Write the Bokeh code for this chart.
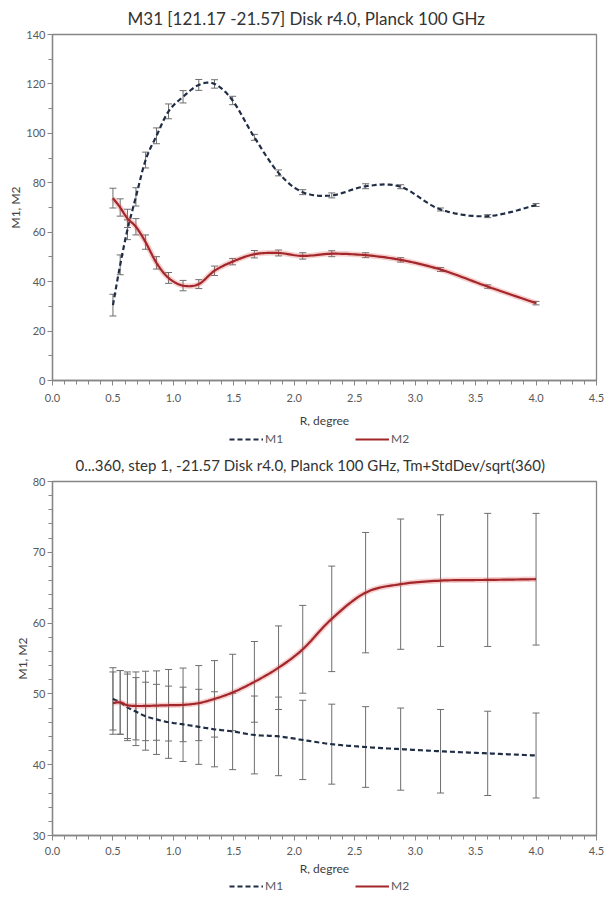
import numpy as np
from bokeh.plotting import figure
from bokeh.models import (ColumnDataSource, Whisker, TeeHead, FixedTicker, Legend,
                          LegendItem, Range1d, NumeralTickFormatter)
from bokeh.layouts import column
from bokeh.embed import file_html
from bokeh.resources import INLINE

# ---------------- data ----------------
R = [0.5, 0.56, 0.62, 0.69, 0.77, 0.86, 0.96, 1.08, 1.21, 1.34,
     1.49, 1.67, 1.87, 2.07, 2.31, 2.59, 2.88, 3.21, 3.6, 4.0]

top_m1 = [30.5, 46.8, 61.0, 74.3, 89.2, 99.0, 108.9, 114.8, 119.6, 120.0,
          113.3, 98.4, 84.0, 76.2, 74.9, 78.6, 78.4, 69.2, 66.5, 71.0]
top_m1_err = [4.4, 4.0, 4.0, 3.7, 3.2, 3.2, 3.0, 2.5, 2.2, 1.7,
              1.7, 1.2, 1.2, 1.0, 1.0, 1.0, 0.8, 0.6, 0.6, 0.6]
top_m2 = [73.8, 70.0, 65.6, 62.2, 56.0, 47.6, 41.5, 38.4, 39.0, 44.4,
          48.1, 51.1, 51.6, 50.4, 51.3, 50.7, 48.8, 44.9, 38.0, 31.3]
top_m2_err = [4.0, 3.5, 3.7, 3.3, 2.9, 2.5, 2.2, 2.1, 1.8, 1.9,
              1.3, 1.5, 1.2, 1.3, 1.2, 1.0, 0.9, 0.8, 0.7, 0.7]

bot_m1 = [49.3, 48.8, 48.1, 47.5, 46.85, 46.4, 46.0, 45.7, 45.35, 45.0,
          44.7, 44.2, 44.0, 43.5, 42.9, 42.5, 42.2, 41.9, 41.6, 41.3]
bot_m1_err = [4.4, 4.5, 4.7, 4.8, 4.8, 4.95, 5.1, 5.25, 5.3, 5.3,
              5.4, 5.5, 5.55, 5.6, 5.65, 5.7, 5.8, 5.9, 5.95, 6.0]
bot_m2 = [48.7, 48.8, 48.4, 48.3, 48.3, 48.35, 48.4, 48.45, 48.7, 49.3,
          50.2, 51.7, 53.7, 56.3, 60.6, 64.3, 65.5, 66.0, 66.1, 66.2]
bot_m2_err = [4.4, 4.5, 4.7, 4.8, 4.9, 4.9, 5.05, 5.2, 5.3, 5.4,
              5.4, 5.7, 5.9, 6.2, 7.45, 8.5, 9.2, 9.3, 9.4, 9.3]

x_ticks = [0.0, 0.5, 1.0, 1.5, 2.0, 2.5, 3.0, 3.5, 4.0, 4.5]
top_y_ticks = [0, 20, 40, 60, 80, 100, 120, 140]
bot_y_ticks = [30, 40, 50, 60, 70, 80]

top_title = "M31  [121.17  -21.57]  Disk r4.0, Planck 100 GHz"
bot_title = "0...360, step 1, -21.57  Disk r4.0, Planck 100 GHz, Tm+StdDev/sqrt(360)"
series_names = ["M1", "M2"]

FONT = "Lato"
AXIS_COL = "#868686"
TEXT_COL = "#595959"
M1_COL = "#1f2d45"
M2_COL = "#a3262a"
ERR_COL = "#6e6e6e"
WIDTH = 604


def smooth(xs, ys, n=14):
    """Excel-like smoothed line (cubic Bezier through the data points)."""
    xs = np.asarray(xs, float)
    ys = np.asarray(ys, float)
    px = np.concatenate([[xs[0]], xs, [xs[-1]]])
    py = np.concatenate([[ys[0]], ys, [ys[-1]]])
    t = np.linspace(0, 1, n)
    outx, outy = [], []
    for i in range(len(xs) - 1):
        p0x, p0y = px[i], py[i]
        p1x, p1y = px[i + 1], py[i + 1]
        p2x, p2y = px[i + 2], py[i + 2]
        p3x, p3y = px[i + 3], py[i + 3]
        c1x, c1y = p1x + (p2x - p0x) / 6, p1y + (p2y - p0y) / 6
        c2x, c2y = p2x - (p3x - p1x) / 6, p2y - (p3y - p1y) / 6
        a, b, c, d = (1 - t) ** 3, 3 * (1 - t) ** 2 * t, 3 * (1 - t) * t ** 2, t ** 3
        bx = a * p1x + b * c1x + c * c2x + d * p2x
        by = a * p1y + b * c1y + c * c2y + d * p2y
        if i > 0:
            bx, by = bx[1:], by[1:]
        outx.extend(bx)
        outy.extend(by)
    return outx, outy


def make_fig(title, title_size, title_offset, title_standoff,
             ymin, ymax, yticks, yminor_step, m1, e1, m2, e2,
             height, btop, bbot, lab_standoff, axlab_standoff):
    p = figure(width=WIDTH, height=height, output_backend="svg", toolbar_location=None,
               x_range=Range1d(0, 4.5), y_range=Range1d(ymin, ymax),
               min_border_left=52, min_border_right=8,
               min_border_top=btop, min_border_bottom=bbot)
    p.background_fill_color = "white"
    p.border_fill_color = "white"
    p.outline_line_color = AXIS_COL
    p.outline_line_width = 1.3
    p.xgrid.visible = False
    p.ygrid.visible = False

    p.title.text = title
    p.title.align = "left"
    p.title.offset = title_offset
    p.title.standoff = title_standoff
    p.title.text_font = FONT
    p.title.text_font_size = title_size
    p.title.text_font_style = "normal"
    p.title.text_color = "#333333"

    xminor = [round(v, 2) for v in np.arange(0, 4.51, 0.1)]
    p.xaxis.ticker = FixedTicker(ticks=x_ticks, minor_ticks=xminor)
    yminor = list(np.arange(ymin, ymax + 0.01, yminor_step))
    p.yaxis.ticker = FixedTicker(ticks=yticks, minor_ticks=yminor)
    p.xaxis.formatter = NumeralTickFormatter(format="0.0")
    p.yaxis.formatter = NumeralTickFormatter(format="0")

    for ax in (p.xaxis[0], p.yaxis[0]):
        ax.axis_line_color = AXIS_COL
        ax.axis_line_width = 1.3
        ax.major_tick_line_color = AXIS_COL
        ax.minor_tick_line_color = AXIS_COL
        ax.major_tick_in = 0
        ax.minor_tick_in = 0
        ax.major_tick_out = 5
        ax.minor_tick_out = 4
        ax.major_label_text_font = FONT
        ax.major_label_text_font_size = "11px"
        ax.major_label_text_color = TEXT_COL
        ax.axis_label_text_font = FONT
        ax.axis_label_text_font_size = "12px"
        ax.axis_label_text_font_style = "normal"
        ax.axis_label_text_color = "#404040"
    p.xaxis.axis_label = "R, degree"
    p.yaxis.axis_label = "M1, M2"
    p.xaxis.major_label_standoff = lab_standoff
    p.xaxis.axis_label_standoff = axlab_standoff
    p.yaxis.major_label_standoff = 2
    p.yaxis.axis_label_standoff = 0

    # error bars
    for m, e in ((m1, e1), (m2, e2)):
        src = ColumnDataSource(dict(x=R,
                                    lower=[a - b for a, b in zip(m, e)],
                                    upper=[a + b for a, b in zip(m, e)]))
        w = Whisker(source=src, base="x", lower="lower", upper="upper",
                    line_color=ERR_COL, line_width=1,
                    upper_head=TeeHead(size=7, line_color=ERR_COL, line_width=1),
                    lower_head=TeeHead(size=7, line_color=ERR_COL, line_width=1))
        p.add_layout(w)

    sx1, sy1 = smooth(R, m1)
    sx2, sy2 = smooth(R, m2)
    p.line(sx1, sy1, line_color=M1_COL, line_width=2.2, line_dash="5 3")
    p.line(sx2, sy2, line_color="#e06060", line_alpha=0.3, line_width=5.5)
    p.line(sx2, sy2, line_color=M2_COL, line_width=2.2)
    return p


def make_legend_fig(height, ly, m1, m2):
    # the series are drawn out of view here; only the legend swatches show
    q = figure(width=WIDTH, height=height, output_backend="svg", toolbar_location=None,
               x_axis_type=None, y_axis_type=None, min_border=0,
               x_range=Range1d(0, 4.5), y_range=Range1d(-2, -1))
    q.outline_line_color = None
    q.xgrid.visible = False
    q.ygrid.visible = False
    r1 = q.line(R, m1, line_color=M1_COL, line_width=2.2, line_dash="5 3")
    r2 = q.line(R, m2, line_color=M2_COL, line_width=2.2)
    legend = Legend(items=[LegendItem(label=series_names[0], renderers=[r1]),
                           LegendItem(label=series_names[1], renderers=[r2])],
                    orientation="horizontal", location=(177, ly),
                    border_line_color=None, background_fill_alpha=0,
                    spacing=70, glyph_width=34, glyph_height=12,
                    label_standoff=2, label_text_font=FONT,
                    label_text_font_size="12px", label_text_color=TEXT_COL,
                    padding=0, margin=0)
    q.add_layout(legend)
    return q


p1 = make_fig(top_title, "17px", 75, 11, 0, 140, top_y_ticks, 10,
              top_m1, top_m1_err, top_m2, top_m2_err,
              height=432, btop=34, bbot=52, lab_standoff=8, axlab_standoff=8)
l1 = make_legend_fig(14, 0, top_m1, top_m2)
p2 = make_fig(bot_title, "15px", 23, 15, 30, 80, bot_y_ticks, 2,
              bot_m1, bot_m1_err, bot_m2, bot_m2_err,
              height=433, btop=33, bbot=44, lab_standoff=6, axlab_standoff=3)
l2 = make_legend_fig(18, 4, bot_m1, bot_m2)

layout = column(p1, l1, p2, l2, spacing=0)
open("out.html", "w").write(file_html(layout, INLINE))
